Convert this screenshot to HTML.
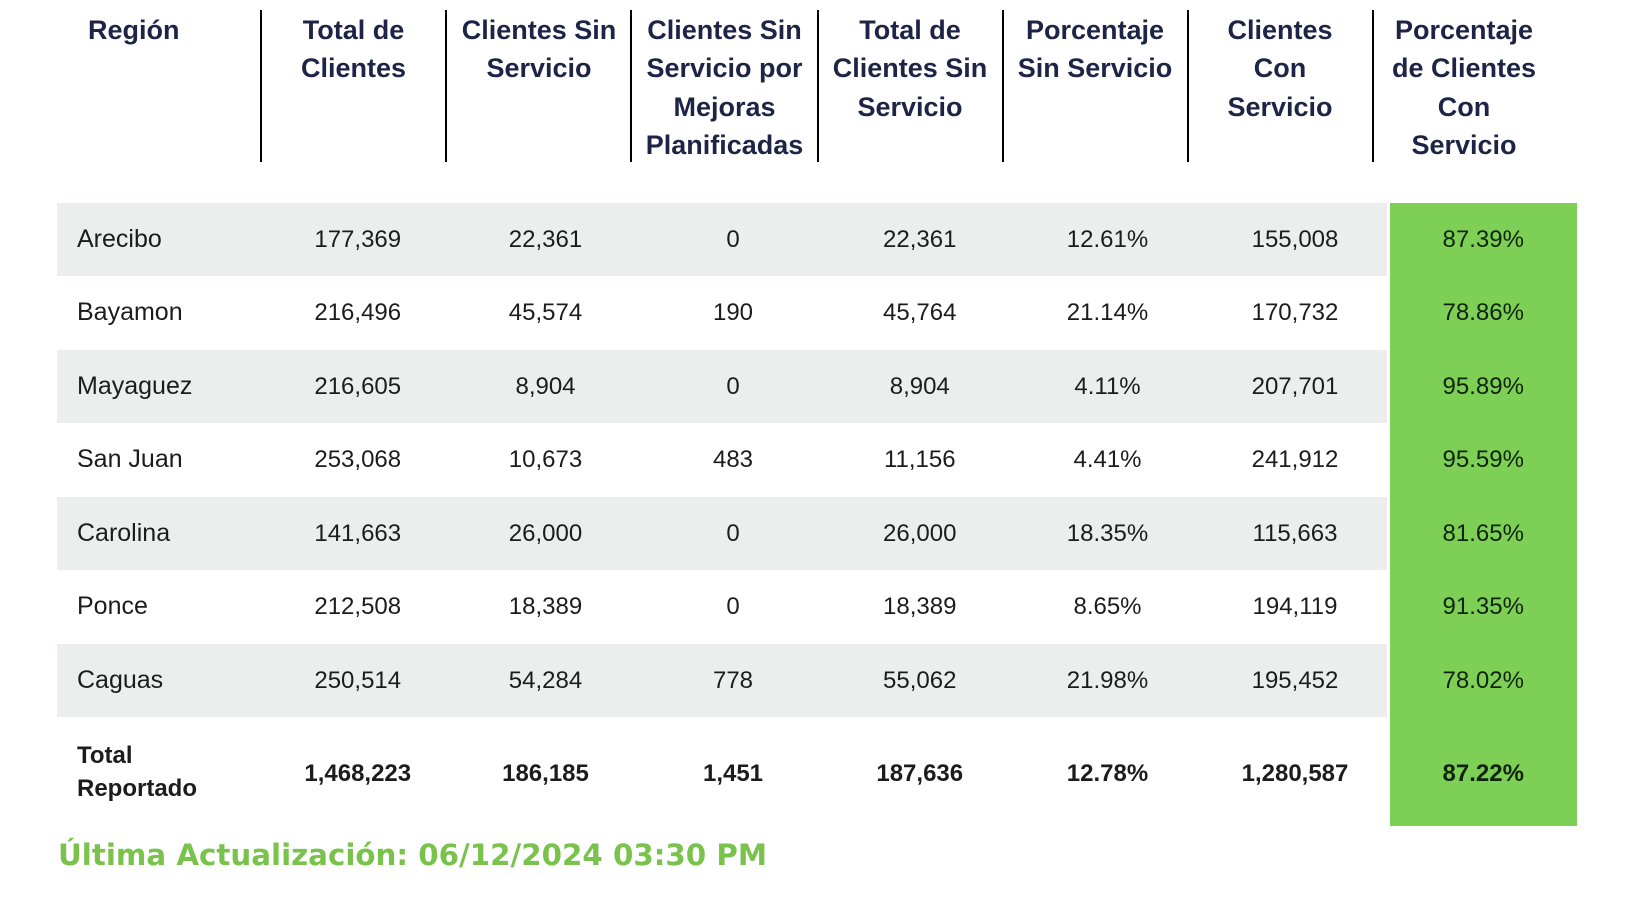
<!DOCTYPE html>
<html>
<head>
<meta charset="utf-8">
<style>
  html, body { margin:0; padding:0; background:#ffffff; }
  body { width:1626px; height:902px; position:relative; overflow:hidden; font-family:"Liberation Sans", Arial, sans-serif; }
  .vl { position:absolute; top:10px; width:2px; height:152px; background:#000; }
  .h { position:absolute; top:11px; font-weight:bold; font-size:27px; line-height:38.4px; color:#1d2446; text-align:center; width:186px; white-space:nowrap; }
  .row { position:absolute; left:57px; width:1330px; height:73.43px; }
  .gray { background:#eceeee; }
  .green { position:absolute; left:1390px; top:203px; width:187px; height:623px; background:#7ecf56; }
  .c { position:absolute; width:187.5px; text-align:center; font-size:24px; color:#1c1c1c; white-space:nowrap; }
  .rn { position:absolute; left:77px; font-size:25px; color:#1c1c1c; white-space:nowrap; }
  .gc { color:#0f240d; }
  .b { font-weight:bold; }
  .foot { position:absolute; left:58px; top:841px; font-family:"DejaVu Sans", sans-serif; font-weight:bold; font-size:29.3px; line-height:29px; color:#79c24b; white-space:nowrap; }
</style>
</head>
<body>
  <!-- header lines -->
  <div class="vl" style="left:260px"></div>
  <div class="vl" style="left:445px"></div>
  <div class="vl" style="left:630px"></div>
  <div class="vl" style="left:817px"></div>
  <div class="vl" style="left:1002px"></div>
  <div class="vl" style="left:1187px"></div>
  <div class="vl" style="left:1372px"></div>

  <!-- header text -->
  <div class="h" style="left:88px; width:auto; text-align:left;">Región</div>
  <div class="h" style="left:260.5px">Total de<br>Clientes</div>
  <div class="h" style="left:446px">Clientes Sin<br>Servicio</div>
  <div class="h" style="left:631.5px">Clientes Sin<br>Servicio por<br>Mejoras<br>Planificadas</div>
  <div class="h" style="left:817px">Total de<br>Clientes Sin<br>Servicio</div>
  <div class="h" style="left:1002px">Porcentaje<br>Sin Servicio</div>
  <div class="h" style="left:1187px">Clientes<br>Con<br>Servicio</div>
  <div class="h" style="left:1371px">Porcentaje<br>de Clientes<br>Con<br>Servicio</div>

  <!-- row backgrounds -->
  <div class="row gray" style="top:203px"></div>
  <div class="row gray" style="top:349.86px"></div>
  <div class="row gray" style="top:496.72px"></div>
  <div class="row gray" style="top:643.58px"></div>
  <div class="green"></div>

  <!-- rows -->
  <div style="position:absolute; left:0; top:203px; width:1626px; height:73.43px; line-height:73.43px;">
    <span class="rn">Arecibo</span>
    <span class="c" style="left:264px">177,369</span>
    <span class="c" style="left:451.75px">22,361</span>
    <span class="c" style="left:639.25px">0</span>
    <span class="c" style="left:826px">22,361</span>
    <span class="c" style="left:1013.75px">12.61%</span>
    <span class="c" style="left:1201.25px">155,008</span>
    <span class="c gc" style="left:1389.5px">87.39%</span>
  </div>
  <div style="position:absolute; left:0; top:276.43px; width:1626px; height:73.43px; line-height:73.43px;">
    <span class="rn">Bayamon</span>
    <span class="c" style="left:264px">216,496</span>
    <span class="c" style="left:451.75px">45,574</span>
    <span class="c" style="left:639.25px">190</span>
    <span class="c" style="left:826px">45,764</span>
    <span class="c" style="left:1013.75px">21.14%</span>
    <span class="c" style="left:1201.25px">170,732</span>
    <span class="c gc" style="left:1389.5px">78.86%</span>
  </div>
  <div style="position:absolute; left:0; top:349.86px; width:1626px; height:73.43px; line-height:73.43px;">
    <span class="rn">Mayaguez</span>
    <span class="c" style="left:264px">216,605</span>
    <span class="c" style="left:451.75px">8,904</span>
    <span class="c" style="left:639.25px">0</span>
    <span class="c" style="left:826px">8,904</span>
    <span class="c" style="left:1013.75px">4.11%</span>
    <span class="c" style="left:1201.25px">207,701</span>
    <span class="c gc" style="left:1389.5px">95.89%</span>
  </div>
  <div style="position:absolute; left:0; top:423.29px; width:1626px; height:73.43px; line-height:73.43px;">
    <span class="rn">San Juan</span>
    <span class="c" style="left:264px">253,068</span>
    <span class="c" style="left:451.75px">10,673</span>
    <span class="c" style="left:639.25px">483</span>
    <span class="c" style="left:826px">11,156</span>
    <span class="c" style="left:1013.75px">4.41%</span>
    <span class="c" style="left:1201.25px">241,912</span>
    <span class="c gc" style="left:1389.5px">95.59%</span>
  </div>
  <div style="position:absolute; left:0; top:496.72px; width:1626px; height:73.43px; line-height:73.43px;">
    <span class="rn">Carolina</span>
    <span class="c" style="left:264px">141,663</span>
    <span class="c" style="left:451.75px">26,000</span>
    <span class="c" style="left:639.25px">0</span>
    <span class="c" style="left:826px">26,000</span>
    <span class="c" style="left:1013.75px">18.35%</span>
    <span class="c" style="left:1201.25px">115,663</span>
    <span class="c gc" style="left:1389.5px">81.65%</span>
  </div>
  <div style="position:absolute; left:0; top:570.15px; width:1626px; height:73.43px; line-height:73.43px;">
    <span class="rn">Ponce</span>
    <span class="c" style="left:264px">212,508</span>
    <span class="c" style="left:451.75px">18,389</span>
    <span class="c" style="left:639.25px">0</span>
    <span class="c" style="left:826px">18,389</span>
    <span class="c" style="left:1013.75px">8.65%</span>
    <span class="c" style="left:1201.25px">194,119</span>
    <span class="c gc" style="left:1389.5px">91.35%</span>
  </div>
  <div style="position:absolute; left:0; top:643.58px; width:1626px; height:73.43px; line-height:73.43px;">
    <span class="rn">Caguas</span>
    <span class="c" style="left:264px">250,514</span>
    <span class="c" style="left:451.75px">54,284</span>
    <span class="c" style="left:639.25px">778</span>
    <span class="c" style="left:826px">55,062</span>
    <span class="c" style="left:1013.75px">21.98%</span>
    <span class="c" style="left:1201.25px">195,452</span>
    <span class="c gc" style="left:1389.5px">78.02%</span>
  </div>

  <!-- total row -->
  <div class="rn b" style="top:738.7px; line-height:33.4px; font-size:24px;">Total<br>Reportado</div>
  <div style="position:absolute; left:0; top:718.5px; width:1626px; height:109px; line-height:109px;">
    <span class="c b" style="left:264px">1,468,223</span>
    <span class="c b" style="left:451.75px">186,185</span>
    <span class="c b" style="left:639.25px">1,451</span>
    <span class="c b" style="left:826px">187,636</span>
    <span class="c b" style="left:1013.75px">12.78%</span>
    <span class="c b" style="left:1201.25px">1,280,587</span>
    <span class="c b gc" style="left:1389.5px">87.22%</span>
  </div>

  <div class="foot">Última Actualización: 06/12/2024 03:30 PM</div>
</body>
</html>
